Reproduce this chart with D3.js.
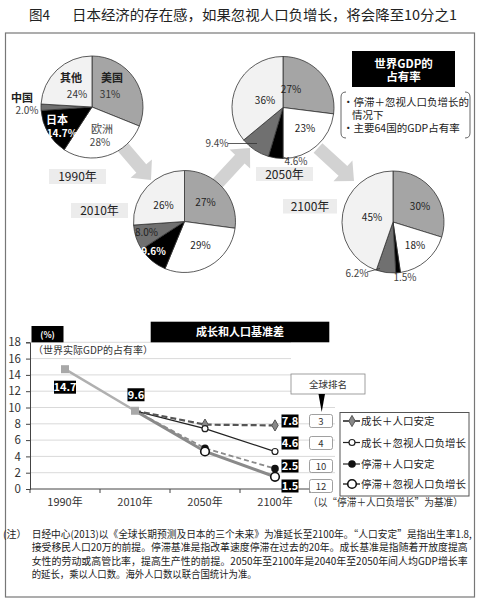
<!DOCTYPE html>
<html><head><meta charset="utf-8">
<script src="https://cdn.jsdelivr.net/npm/d3@7"></script>
<style>
html,body{margin:0;padding:0;background:#fff;}
text{font-family:"Noto Sans CJK SC","Noto Sans",sans-serif;}
</style></head>
<body><svg id="c" width="480" height="600"></svg>
<script>
// ---------- DATA ----------
const regions = ["美国", "欧洲", "日本", "中国", "其他"];
const share1990 = [31, 28, 14.7, 2.0, 24];
const share2010 = [27, 29, 9.6, 8.0, 26];
const share2050 = [27, 23, 4.6, 9.4, 36];
const share2100 = [30, 18, 1.5, 6.2, 45];
const pieYears = ["1990年", "2010年", "2050年", "2100年"];

const years = ["1990年", "2010年", "2050年", "2100年"];
const history = [14.7, 9.6, null, null];
const growthStable = [null, 9.6, 7.9, 7.8];
const growthIgnore = [null, 9.6, 7.4, 4.6];
const stagStable = [null, 9.6, 5.0, 2.5];
const stagIgnore = [null, 9.6, 4.6, 1.5];
const seriesNames = ["成长＋人口安定", "成长＋忽视人口负增长", "停滞＋人口安定", "停滞＋忽视人口负增长"];
const finalLabels = ["7.8", "4.6", "2.5", "1.5"];
const ranks = [3, 4, 10, 12];
const yTicks = [0, 2, 4, 6, 8, 10, 12, 14, 16, 18];

const svg = d3.select("#c");

// ---------- TITLE & FRAME ----------
svg.append("text").attr("x", 29).attr("y", 20).attr("font-size", 13.5).attr("fill", "#222").text("图4");
svg.append("text").attr("x", 72).attr("y", 20).attr("font-size", 13.5).attr("fill", "#222")
  .attr("textLength", 385).attr("lengthAdjust", "spacingAndGlyphs")
  .text("日本经济的存在感，如果忽视人口负增长，将会降至10分之1");
svg.append("rect").attr("x", 5.5).attr("y", 33).attr("width", 469).attr("height", 564)
  .attr("fill", "none").attr("stroke", "#777").attr("stroke-width", 1.2);

// ---------- ARROWS ----------
function arrow(x1, y1, x2, y2, sw, hw, hl) {
  const dx = x2 - x1, dy = y2 - y1, L = Math.hypot(dx, dy);
  const ux = dx / L, uy = dy / L, px = -uy, py = ux;
  const bx = x2 - ux * hl, by = y2 - uy * hl;
  const pts = [
    [x1 + px * sw / 2, y1 + py * sw / 2], [bx + px * sw / 2, by + py * sw / 2],
    [bx + px * hw / 2, by + py * hw / 2], [x2, y2],
    [bx - px * hw / 2, by - py * hw / 2], [bx - px * sw / 2, by - py * sw / 2],
    [x1 - px * sw / 2, y1 - py * sw / 2]];
  svg.append("polygon").attr("points", pts.map(p => p.join(",")).join(" ")).attr("fill", "#d2d2d2");
}
arrow(122, 146, 151, 180, 13, 28, 15);
arrow(215, 186, 250, 148, 13, 28, 15);
arrow(318, 148, 354, 181, 13, 28, 15);

// ---------- PIES ----------
const pieColors = ["#a5a5a5", "#ffffff", "#000000", "#707070", "#f2f2f2"];
const pie = d3.pie().sort(null).value(d => d);
const R = 51;
const arc = d3.arc().innerRadius(0).outerRadius(R);
const pies = [
  {data: share1990, cx: 92, cy: 107},
  {data: share2010, cx: 184.5, cy: 221.5},
  {data: share2050, cx: 283, cy: 107.5},
  {data: share2100, cx: 393, cy: 222}
];
const yearBoxes = [[49, 169, 57, 15], [71, 203, 57, 15], [256, 167, 57, 14], [283, 199, 54, 14.5]];
pieYears.forEach((y, i) => {
  const b = yearBoxes[i];
  svg.append("rect").attr("x", b[0]).attr("y", b[1]).attr("width", b[2]).attr("height", b[3]).attr("fill", "#ececec");
  svg.append("text").attr("x", b[0] + b[2] / 2).attr("y", b[1] + b[3] / 2 + 4.5).attr("text-anchor", "middle")
    .attr("font-size", 12).attr("fill", "#222").text(y);
});
pies.forEach(p => {
  const g = svg.append("g").attr("transform", `translate(${p.cx},${p.cy})`);
  g.selectAll("path").data(pie(p.data)).join("path").attr("d", arc)
    .attr("fill", (d, i) => pieColors[i]).attr("stroke", "#333").attr("stroke-width", 0.8);
});
function fmt(v) { return (Number.isInteger(v) && v >= 10 ? v : v.toFixed(1)) + "%"; }
const L = [];
// 1990
L.push([0, 20, -29, regions[0], "#222", 11, 700]);
L.push([0, 18, -13, fmt(share1990[0]), "#333", 10, 400]);
L.push([0, -21, -29, regions[4], "#222", 11, 700]);
L.push([0, -15, -13, fmt(share1990[4]), "#333", 10, 400]);
L.push([0, -70, -9, regions[3], "#222", 11, 700]);
L.push([0, -65, 3.5, fmt(share1990[3]), "#444", 10, 400]);
L.push([0, -35, 13.5, regions[2], "#fff", 11, 700]);
L.push([0, -30, 26.5, fmt(share1990[2]), "#fff", 10, 700]);
L.push([0, 10, 22.5, regions[1], "#444", 11, 400]);
L.push([0, 8, 35, fmt(share1990[1]), "#444", 10, 400]);
// 2010
L.push([1, 21, -19, fmt(share2010[0]), "#222", 10, 400]);
L.push([1, -21, -16, fmt(share2010[4]), "#222", 10, 400]);
L.push([1, -38, 11, fmt(share2010[3]), "#222", 10, 400]);
L.push([1, -31, 30, fmt(share2010[2]), "#fff", 10, 700]);
L.push([1, 16, 24, fmt(share2010[1]), "#222", 10, 400]);
// 2050
L.push([2, 8, -18, fmt(share2050[0]), "#222", 10, 400]);
L.push([2, -18, -7, fmt(share2050[4]), "#222", 10, 400]);
L.push([2, 22, 21, fmt(share2050[1]), "#222", 10, 400]);
L.push([2, -66, 36, fmt(share2050[3]), "#444", 10, 400]);
L.push([2, 13, 53.5, fmt(share2050[2]), "#444", 10, 400]);
// 2100
L.push([3, 27, -16, fmt(share2100[0]), "#222", 10, 400]);
L.push([3, -21, -5, fmt(share2100[4]), "#222", 10, 400]);
L.push([3, 22, 23, fmt(share2100[1]), "#222", 10, 400]);
L.push([3, -36, 51, fmt(share2100[3]), "#444", 10, 400]);
L.push([3, 12, 55, fmt(share2100[2]), "#444", 10, 400]);
L.forEach(l => {
  const p = pies[l[0]];
  svg.append("text").attr("x", p.cx + l[1]).attr("y", p.cy + l[2] + l[5] * 0.36)
    .attr("text-anchor", "middle").attr("font-size", l[5]).attr("font-weight", l[6]).attr("fill", l[4]).text(l[3]);
});
svg.append("line").attr("x1", 228).attr("y1", 143.5).attr("x2", 257).attr("y2", 143.5).attr("stroke", "#333").attr("stroke-width", 0.8);
svg.append("line").attr("x1", 283).attr("y1", 157).attr("x2", 289).attr("y2", 159.5).attr("stroke", "#333").attr("stroke-width", 0.8);
svg.append("line").attr("x1", 367).attr("y1", 272).attr("x2", 380).attr("y2", 268.5).attr("stroke", "#333").attr("stroke-width", 0.8);

// legend (top right)
svg.append("rect").attr("x", 352).attr("y", 51).attr("width", 103).attr("height", 36).attr("fill", "#000");
svg.append("text").attr("x", 403.5).attr("y", 67.5).attr("text-anchor", "middle").attr("font-size", 11.5).attr("font-weight", 700).attr("fill", "#fff").text("世界GDP的");
svg.append("text").attr("x", 403.5).attr("y", 81).attr("text-anchor", "middle").attr("font-size", 11.5).attr("font-weight", 700).attr("fill", "#fff").text("占有率");
svg.append("path").attr("d", "M346,92 Q341,92 341,97 L341,133 Q341,138 346,138").attr("fill", "none").attr("stroke", "#555").attr("stroke-width", 0.9);
svg.append("path").attr("d", "M465,92 Q470,92 470,97 L470,133 Q470,138 465,138").attr("fill", "none").attr("stroke", "#555").attr("stroke-width", 0.9);
svg.append("text").attr("x", 343).attr("y", 106).attr("font-size", 10.5).attr("fill", "#222").text("・停滞＋忽视人口负增长的");
svg.append("text").attr("x", 352).attr("y", 119).attr("font-size", 10.5).attr("fill", "#222").text("情况下");
svg.append("text").attr("x", 343).attr("y", 132).attr("font-size", 10.5).attr("fill", "#222").text("・主要64国的GDP占有率");

// ---------- LINE CHART ----------
const x = d3.scaleBand().domain(years).range([30, 310]);
const y = d3.scaleLinear().domain([0, 18]).range([489, 342.3]);
const cx = d => x(d) + x.bandwidth() / 2;

svg.append("g").selectAll("line").data(yTicks.filter(t => t > 0)).join("line")
  .attr("x1", 30).attr("x2", t => t >= 14 ? 291 : 335).attr("y1", d => y(d)).attr("y2", d => y(d))
  .attr("stroke", "#cfcfcf").attr("stroke-width", 0.8);

const yAxis = svg.append("g").attr("transform", "translate(30,0)")
  .call(d3.axisLeft(y).tickValues(yTicks).tickSize(4).tickPadding(5));
yAxis.select(".domain").attr("stroke", "#444");
yAxis.selectAll(".tick line").attr("stroke", "#444");
yAxis.selectAll("text").attr("font-size", 11.5).attr("fill", "#333").attr("font-family", "Noto Sans, sans-serif");

svg.append("line").attr("x1", 30).attr("x2", 310).attr("y1", 489).attr("y2", 489).attr("stroke", "#444");
svg.append("g").selectAll("line").data([0, 1, 2, 3, 4]).join("line")
  .attr("x1", i => 30 + i * x.step()).attr("x2", i => 30 + i * x.step()).attr("y1", 489).attr("y2", 493).attr("stroke", "#444");
svg.append("g").selectAll("text").data(years).join("text")
  .attr("x", d => cx(d)).attr("y", 506).attr("text-anchor", "middle").attr("font-size", 11).attr("fill", "#333").text(d => d);
svg.append("text").attr("x", 308).attr("y", 506).attr("font-size", 10.5).attr("fill", "#333")
  .attr("textLength", 155).attr("lengthAdjust", "spacingAndGlyphs").text("（以“停滞＋人口负增长”为基准）");

svg.append("rect").attr("x", 31.5).attr("y", 326).attr("width", 32).attr("height", 16.3).attr("fill", "#000");
svg.append("text").attr("x", 47.5).attr("y", 337.5).attr("text-anchor", "middle").attr("font-size", 8.5).attr("font-weight", 700).attr("fill", "#fff").text("(%)");
svg.append("rect").attr("x", 150.7).attr("y", 321.7).attr("width", 178.6).attr("height", 20.6).attr("fill", "#000");
svg.append("text").attr("x", 240).attr("y", 336).attr("text-anchor", "middle").attr("font-size", 11).attr("font-weight", 700).attr("fill", "#fff").text("成长和人口基准差");
svg.append("text").attr("x", 33).attr("y", 354).attr("font-size", 10).attr("fill", "#333").text("（世界实际GDP的占有率）");

const line = d3.line().defined(d => d.v != null).x(d => cx(d.k)).y(d => y(d.v));
const toPts = arr => years.map((k, i) => ({k, v: arr[i]}));
const seriesStyles = [
  {data: stagIgnore, stroke: "#8a8a8a", w: 3, dash: null},
  {data: stagStable, stroke: "#8a8a8a", w: 1.8, dash: "5,3"},
  {data: growthIgnore, stroke: "#222", w: 1.3, dash: null},
  {data: growthStable, stroke: "#555", w: 2.2, dash: "6,3"}
];
seriesStyles.forEach(s => {
  svg.append("path").attr("d", line(toPts(s.data))).attr("fill", "none")
    .attr("stroke", s.stroke).attr("stroke-width", s.w).attr("stroke-dasharray", s.dash);
});
svg.append("path").attr("d", line(toPts(history))).attr("fill", "none").attr("stroke", "#b0b0b0").attr("stroke-width", 2.5);
toPts(history).filter(d => d.v != null).forEach(d => {
  svg.append("rect").attr("x", cx(d.k) - 4).attr("y", y(d.v) - 4).attr("width", 8).attr("height", 8).attr("fill", "#a8a8a8");
});
const markers = [
  {data: growthStable, draw: (g, px, py) => g.append("path").attr("d", d3.symbol(d3.symbolDiamond, 36)()).attr("transform", `translate(${px},${py})`).attr("fill", "#888").attr("stroke", "#555")},
  {data: growthIgnore, draw: (g, px, py) => g.append("circle").attr("cx", px).attr("cy", py).attr("r", 3).attr("fill", "#fff").attr("stroke", "#222").attr("stroke-width", 1.2)},
  {data: stagStable, draw: (g, px, py) => g.append("circle").attr("cx", px).attr("cy", py).attr("r", 3.8).attr("fill", "#111")},
  {data: stagIgnore, draw: (g, px, py) => g.append("circle").attr("cx", px).attr("cy", py).attr("r", 4.3).attr("fill", "#fff").attr("stroke", "#111").attr("stroke-width", 1.6)}
];
markers.forEach(m => {
  toPts(m.data).forEach((d, i) => { if (d.v != null && i >= 2) m.draw(svg, cx(d.k), y(d.v)); });
});

function valBox(px, py, txt) {
  const w = txt.length > 3 ? 22 : 17;
  svg.append("rect").attr("x", px - w / 2).attr("y", py - 6.5).attr("width", w).attr("height", 13).attr("fill", "#000");
  svg.append("text").attr("x", px).attr("y", py + 4.3).attr("text-anchor", "middle").attr("font-size", 11).attr("font-weight", 700).attr("fill", "#fff").text(txt);
}
valBox(cx(years[0]), y(history[0]) + 18, history[0].toFixed(1));
valBox(cx(years[1]) + 1, y(history[1]) - 16, history[1].toFixed(1));
const labelY = [421, 443, 466, 486];
finalLabels.forEach((t, i) => {
  valBox(290, labelY[i], t);
  svg.append("rect").attr("x", 309.5).attr("y", labelY[i] - 6.5).attr("width", 23).attr("height", 13).attr("rx", 2)
    .attr("fill", "#fff").attr("stroke", "#888").attr("stroke-width", 0.8);
  svg.append("text").attr("x", 321).attr("y", labelY[i] + 3.5).attr("text-anchor", "middle").attr("font-size", 9.5).attr("fill", "#333").text(ranks[i]);
});
svg.append("rect").attr("x", 291).attr("y", 374).attr("width", 74).attr("height", 20).attr("fill", "#fff").attr("stroke", "#888").attr("stroke-width", 0.8);
svg.append("text").attr("x", 328).attr("y", 387.5).attr("text-anchor", "middle").attr("font-size", 9.5).attr("fill", "#333").text("全球排名");
svg.append("polygon").attr("points", "318.5,394 325,394 321.7,412").attr("fill", "#000");

svg.append("rect").attr("x", 340).attr("y", 412.5).attr("width", 129).attr("height", 83.5).attr("fill", "#fff").attr("stroke", "#555").attr("stroke-width", 1);
const legY = [421, 442.5, 464, 484];
seriesNames.forEach((n, i) => {
  svg.append("line").attr("x1", 343).attr("x2", 360).attr("y1", legY[i]).attr("y2", legY[i])
    .attr("stroke", i === 0 ? "#555" : (i === 3 ? "#666" : "#222")).attr("stroke-width", i === 0 ? 2 : (i === 3 ? 2 : 1.2));
  markers[i].draw(svg, 352, legY[i]);
  svg.append("text").attr("x", 361).attr("y", legY[i] + 4).attr("font-size", 10.5).attr("fill", "#222").text(n);
});

// ---------- FOOTNOTE ----------
const notes = [
  ["日经中心(2013)以《全球长期预测及日本的三个未来》为准延长至2100年。“人口安定”是指出生率1.8,", 440],
  ["接受移民人口20万的前提。停滞基准是指改革速度停滞在过去的20年。成长基准是指随着开放度提高", 436],
  ["女性的劳动或高管比率，提高生产性的前提。2050年至2100年是2040年至2050年间人均GDP增长率", 436],
  ["的延长，乘以人口数。海外人口数以联合国统计为准。", 225]
];
svg.append("text").attr("x", 3).attr("y", 538).attr("font-size", 10).attr("fill", "#222").text("(注）");
notes.forEach((n, i) => {
  svg.append("text").attr("x", 31.7).attr("y", 538 + i * 13.3).attr("font-size", 10).attr("fill", "#222")
    .attr("textLength", n[1]).attr("lengthAdjust", "spacingAndGlyphs").text(n[0]);
});
</script></body></html>
